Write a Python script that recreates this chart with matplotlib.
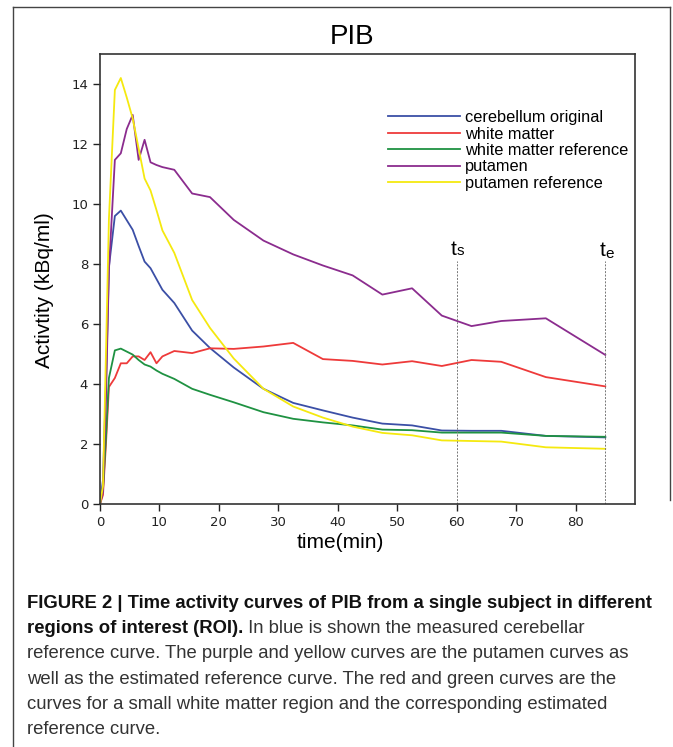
import matplotlib
matplotlib.use("Agg")
import matplotlib.pyplot as plt
from matplotlib import font_manager

# frame mid-times (min)
t = [0, 0.5, 1, 1.5, 2.5, 3.5, 4.5, 5.5, 6.5, 7.5, 8.5, 9.5, 10.5, 12.5, 15.5,
     18.5, 22.5, 27.5, 32.5, 37.5, 42.5, 47.5, 52.5, 57.5, 62.5, 67.5, 75, 85]

cerebellum = [0, 0.8, 4.0, 7.9, 9.6, 9.78, 9.46, 9.14, 8.6, 8.08, 7.86, 7.5, 7.14,
              6.7, 5.78, 5.2, 4.55, 3.84, 3.37, 3.12, 2.88, 2.68, 2.62, 2.45, 2.44,
              2.44, 2.27, 2.22]
white_matter = [0, 0.3, 2.0, 3.9, 4.2, 4.69, 4.69, 4.92, 4.92, 4.8, 5.06, 4.69, 4.92,
                5.1, 5.03, 5.19, 5.17, 5.25, 5.37, 4.83, 4.77, 4.65, 4.76, 4.6, 4.8,
                4.74, 4.23, 3.92]
white_matter_ref = [0, 0.5, 2.2, 4.2, 5.12, 5.18, 5.08, 4.98, 4.8, 4.65, 4.58, 4.45,
                    4.34, 4.17, 3.84, 3.64, 3.39, 3.06, 2.84, 2.72, 2.62, 2.48, 2.46,
                    2.38, 2.38, 2.38, 2.27, 2.24]
putamen = [0, 0.4, 3.5, 7.8, 11.47, 11.69, 12.5, 12.97, 11.47, 12.14, 11.39, 11.3,
           11.23, 11.14, 10.35, 10.23, 9.47, 8.78, 8.32, 7.95, 7.62, 6.98, 7.19, 6.28,
           5.93, 6.1, 6.19, 4.97]
putamen_ref = [0, 0.6, 5.0, 9.5, 13.8, 14.2, 13.55, 12.85, 11.85, 10.85, 10.45, 9.8,
               9.12, 8.37, 6.8, 5.87, 4.85, 3.84, 3.25, 2.88, 2.58, 2.37, 2.29, 2.12,
               2.1, 2.08, 1.89, 1.84]

labels = ["cerebellum original", "white matter", "white matter reference",
          "putamen", "putamen reference"]
colors = ["#3b4fa6", "#ee3a3a", "#1f9242", "#8b2c8e", "#f5e90f"]
t_start, t_end = 60, 85

names = [f.name for f in font_manager.fontManager.ttflist]
narrow = "Liberation Sans Narrow" if "Liberation Sans Narrow" in names else "Liberation Sans"

W, H = 673, 747
fig = plt.figure(figsize=(W / 100, H / 100), dpi=100)
ax = fig.add_axes([100 / W, 1 - 504 / H, 535 / W, 450 / H])

series = [cerebellum, white_matter, white_matter_ref, putamen, putamen_ref]
for y, lab, c in zip(series, labels, colors):
    ax.plot(t, y, color=c, lw=1.3, label=lab)

for tv in (t_start, t_end):
    ax.plot([tv, tv], [0, 8.1], color="#777777", lw=0.7, ls=(0, (2, 1.5)))

ax.text(t_start, 8.3, "t", ha="right", va="baseline", fontsize=15, family="Liberation Sans")
ax.text(t_start, 8.3, "s", ha="left", va="baseline", fontsize=11, family="Liberation Sans")
ax.text(t_end, 8.25, "t", ha="right", va="baseline", fontsize=15, family="Liberation Sans")
ax.text(t_end, 8.2, "e", ha="left", va="baseline", fontsize=11, family="Liberation Sans")

ax.set_xlim(0, 90)
ax.set_ylim(0, 15)
ax.set_xticks(range(0, 81, 10))
ax.set_yticks(range(0, 15, 2))
ax.tick_params(direction="out", length=5, width=1, colors="#222222", labelsize=9.5)
for s in ax.spines.values():
    s.set_color("#333333")
    s.set_linewidth(1.2)

leg = ax.legend(loc="upper left", bbox_to_anchor=(0.526, 0.89), frameon=False,
                handlelength=4.4, handletextpad=0.3, labelspacing=0.09,
                prop={"family": "Liberation Sans", "size": 11.8}, borderaxespad=0)

fig.text(352 / W, 1 - 37 / H, "PIB", ha="center", va="center", fontsize=20,
         family="Liberation Sans")
fig.text(45 / W, 1 - 290 / H, "Activtity (kBq/ml)", ha="center", va="center",
         rotation=90, fontsize=15, family="Liberation Sans")
fig.text(340 / W, 1 - 543 / H, "time(min)", ha="center", va="center", fontsize=15,
         family="Liberation Sans")

# outer frame
fig.add_artist(plt.Line2D([13 / W, 13 / W], [0, 1 - 7 / H], color="#444444", lw=1,
                          transform=fig.transFigure))
fig.add_artist(plt.Line2D([13 / W, 670 / W], [1 - 7 / H, 1 - 7 / H], color="#444444",
                          lw=1, transform=fig.transFigure))
fig.add_artist(plt.Line2D([670 / W, 670 / W], [1 - 7 / H, 1 - 500 / H], color="#444444",
                          lw=1, transform=fig.transFigure))

# caption
cap = [
    ("FIGURE 2 | Time activity curves of PIB from a single subject in different", ""),
    ("regions of interest (ROI).", " In blue is shown the measured cerebellar"),
    ("", "reference curve. The purple and yellow curves are the putamen curves as"),
    ("", "well as the estimated reference curve. The red and green curves are the"),
    ("", "curves for a small white matter region and the corresponding estimated"),
    ("", "reference curve."),
]
renderer = fig.canvas.get_renderer()
x0 = 27
for i, (b, n) in enumerate(cap):
    yb = 1 - (608 + i * 25.2) / H
    x = x0
    if b:
        tb = fig.text(x / W, yb, b, fontsize=13.3, weight="bold", family=narrow,
                      va="baseline", color="#111111")
        x += tb.get_window_extent(renderer).width
    if n:
        fig.text(x / W, yb, n, fontsize=13.3, family=narrow, va="baseline",
                 color="#333333")

fig.savefig("out.png", dpi=100)
